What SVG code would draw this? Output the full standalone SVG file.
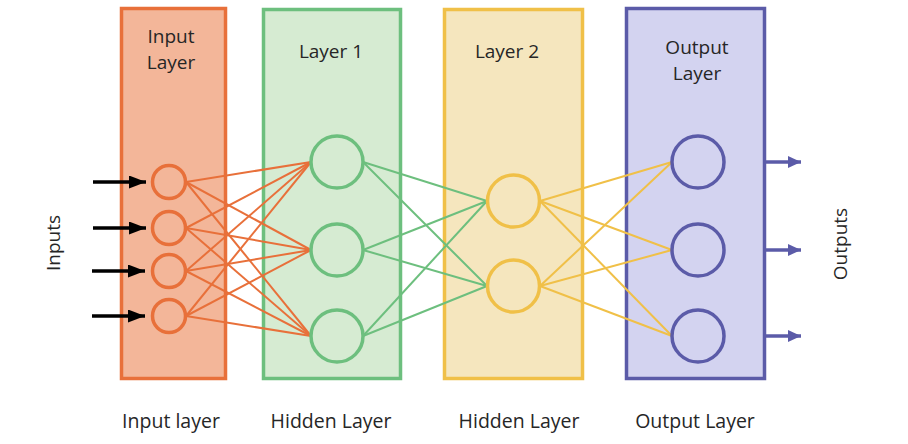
<svg xmlns="http://www.w3.org/2000/svg" width="908" height="444" viewBox="0 0 908 444">
<style>
text{font-family:"Open Sans","Liberation Sans",sans-serif;fill:#262626;}
.t{font-size:19px;text-anchor:middle;}
.b{font-size:19.5px;text-anchor:middle;}
.r{stroke-width:3.5;}
.or{fill:#F3B699;stroke:#E8703A;}
.gr{fill:#D6EBD2;stroke:#6DBF7E;}
.ye{fill:#F5E6BE;stroke:#F0C048;}
.pu{fill:#D3D3F0;stroke:#5B5BA8;}
.n{fill:none;stroke-width:3.5;}
.oc{stroke:#E8703A;}
.gc{stroke:#6DBF7E;}
.yc{stroke:#F0C048;}
.pc{stroke:#5B5BA8;}
.lo line{stroke:#E8703A;stroke-width:2;}
.lg line{stroke:#6DBF7E;stroke-width:2;}
.ly line{stroke:#F0C048;stroke-width:2;}
.ain line{stroke:#000;stroke-width:3.5;marker-end:url(#ab);}
.aout line{stroke:#5B5BA8;stroke-width:3.5;marker-end:url(#ap);}
</style>
<defs>
<marker id="ab" markerUnits="userSpaceOnUse" markerWidth="17" markerHeight="13" refX="17" refY="6.5" orient="auto"><path d="M0,0 L17,6.5 L0,13 z" fill="#000"/></marker>
<marker id="ap" markerUnits="userSpaceOnUse" markerWidth="13" markerHeight="12" refX="13" refY="6" orient="auto"><path d="M0,0 L13,6 L0,12 z" fill="#5B5BA8"/></marker>
</defs>
<rect width="908" height="444" fill="#fff"/>
<g id="layer-input">
<rect class="r or" x="121.5" y="8.5" width="104" height="370"/>
<text class="t" x="171" y="42.5">Input</text>
<text class="t" x="171" y="68.5">Layer</text>
</g>
<g id="layer-hidden1">
<rect class="r gr" x="263.5" y="9.5" width="137" height="369"/>
<text class="t" x="331" y="58">Layer 1</text>
</g>
<g id="layer-hidden2">
<rect class="r ye" x="444.5" y="9.5" width="138" height="369"/>
<text class="t" x="507" y="58">Layer 2</text>
</g>
<g id="layer-output">
<rect class="r pu" x="626.5" y="8.5" width="138" height="370"/>
<text class="t" x="697" y="53.5">Output</text>
<text class="t" x="697" y="79.5">Layer</text>
</g>
<g id="connectors">
<g class="lo">
<line x1="186" y1="182" x2="311" y2="162"/><line x1="186" y1="182" x2="311" y2="250"/><line x1="186" y1="182" x2="311" y2="336"/>
<line x1="186" y1="228" x2="311" y2="162"/><line x1="186" y1="228" x2="311" y2="250"/><line x1="186" y1="228" x2="311" y2="336"/>
<line x1="186" y1="271" x2="311" y2="162"/><line x1="186" y1="271" x2="311" y2="250"/><line x1="186" y1="271" x2="311" y2="336"/>
<line x1="186" y1="316" x2="311" y2="162"/><line x1="186" y1="316" x2="311" y2="250"/><line x1="186" y1="316" x2="311" y2="336"/>
</g>
<g class="lg">
<line x1="363" y1="162" x2="487" y2="201"/><line x1="363" y1="162" x2="487" y2="286"/>
<line x1="363" y1="250" x2="487" y2="201"/><line x1="363" y1="250" x2="487" y2="286"/>
<line x1="363" y1="336" x2="487" y2="201"/><line x1="363" y1="336" x2="487" y2="286"/>
</g>
<g class="ly">
<line x1="540" y1="201" x2="672" y2="162"/><line x1="540" y1="201" x2="672" y2="250"/><line x1="540" y1="201" x2="672" y2="336"/>
<line x1="540" y1="286" x2="672" y2="162"/><line x1="540" y1="286" x2="672" y2="250"/><line x1="540" y1="286" x2="672" y2="336"/>
</g>
<g class="ain">
<line x1="93" y1="182" x2="146" y2="182"/>
<line x1="93" y1="228" x2="146" y2="228"/>
<line x1="92" y1="271" x2="145" y2="271"/>
<line x1="92" y1="316" x2="145" y2="316"/>
</g>
<g class="aout">
<line x1="765" y1="162" x2="801" y2="162"/>
<line x1="765" y1="250" x2="801" y2="250"/>
<line x1="765" y1="336" x2="801" y2="336"/>
</g>
</g>
<g id="in1"><circle class="n oc" cx="169" cy="182" r="16.5"/></g>
<g id="in2"><circle class="n oc" cx="169" cy="228" r="16.5"/></g>
<g id="in3"><circle class="n oc" cx="169" cy="271" r="16.5"/></g>
<g id="in4"><circle class="n oc" cx="169" cy="316" r="16.5"/></g>
<g id="h1a"><circle class="n gc" cx="337" cy="162" r="26"/></g>
<g id="h1b"><circle class="n gc" cx="337" cy="250" r="26"/></g>
<g id="h1c"><circle class="n gc" cx="337" cy="336" r="26"/></g>
<g id="h2a"><circle class="n yc" cx="513.5" cy="201" r="26"/></g>
<g id="h2b"><circle class="n yc" cx="513.5" cy="286" r="26"/></g>
<g id="o1"><circle class="n pc" cx="698" cy="162" r="26"/></g>
<g id="o2"><circle class="n pc" cx="698" cy="250" r="26"/></g>
<g id="o3"><circle class="n pc" cx="698" cy="336" r="26"/></g>
<g id="labels">
<text class="t" transform="translate(60,243) rotate(-90)">Inputs</text>
<text class="t" transform="translate(847,244) rotate(-90)">Outputs</text>
<text class="b" x="171" y="428">Input layer</text>
<text class="b" x="331" y="428">Hidden Layer</text>
<text class="b" x="519" y="428">Hidden Layer</text>
<text class="b" x="695" y="428">Output Layer</text>
</g>
</svg>
